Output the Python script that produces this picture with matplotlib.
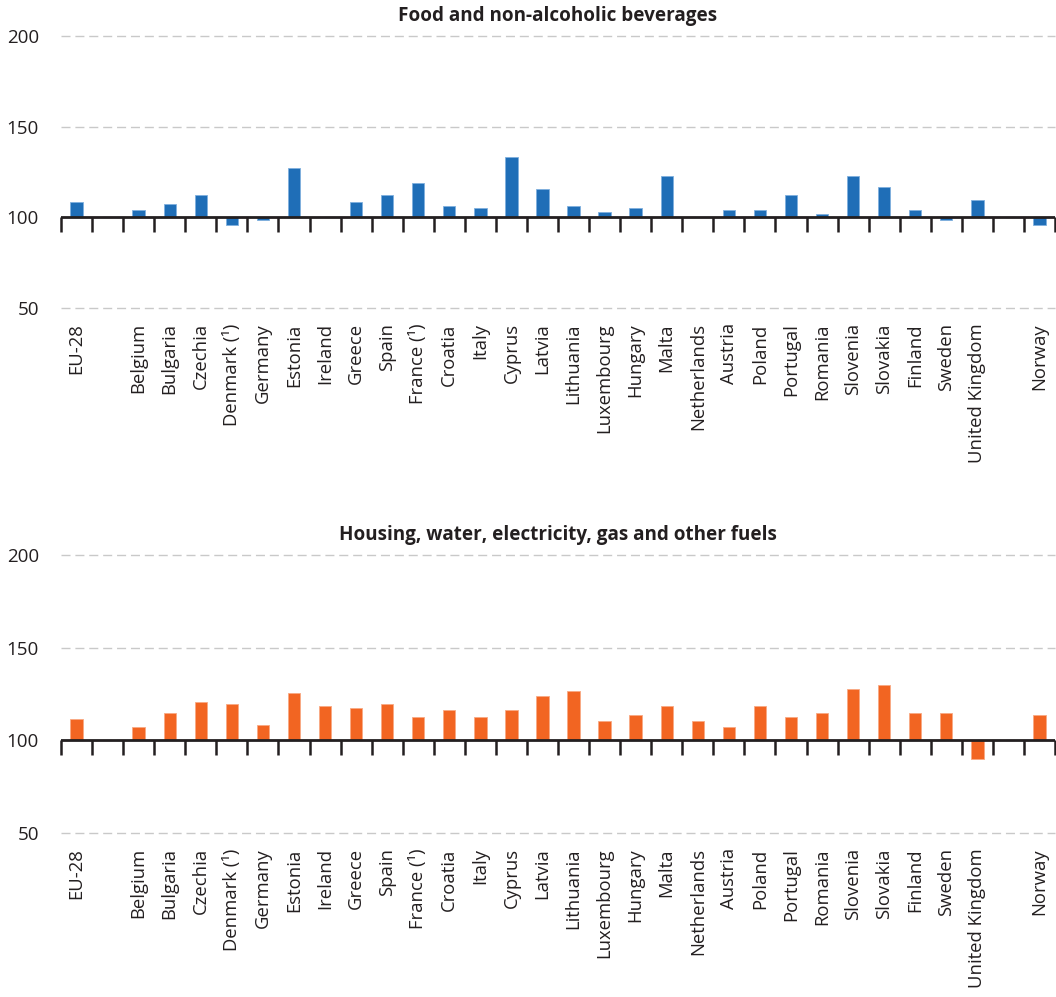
import numpy as np
import matplotlib
matplotlib.use("Agg")
import matplotlib.pyplot as plt
from matplotlib.lines import TICKDOWN

nan = float("nan")

categories = ["EU-28", "", "Belgium", "Bulgaria", "Czechia", "Denmark (¹)", "Germany",
              "Estonia", "Ireland", "Greece", "Spain", "France (¹)", "Croatia", "Italy",
              "Cyprus", "Latvia", "Lithuania", "Luxembourg", "Hungary", "Malta",
              "Netherlands", "Austria", "Poland", "Portugal", "Romania", "Slovenia",
              "Slovakia", "Finland", "Sweden", "United Kingdom", "", "Norway"]

food = [108.7, nan, 103.9, 107.6, 112.2, 95.7, 98.6, 127.2, nan, 108.7, 112.2, 119.1,
        106.3, 105.0, 133.1, 115.6, 106.3, 102.8, 105.0, 122.6, nan, 103.9, 103.9,
        112.2, 101.7, 122.6, 116.7, 103.9, 98.6, 109.8, nan, 95.7]

housing = [111.6, nan, 107.0, 115.0, 120.6, 119.5, 108.1, 125.3, 118.4, 117.3, 119.5,
           112.8, 116.1, 112.8, 116.1, 124.0, 126.4, 110.5, 113.9, 118.4, 110.5, 107.0,
           118.4, 112.8, 115.0, 127.6, 129.8, 115.0, 115.0, 90.1, nan, 113.9]

titles = ["Food and non-alcoholic beverages",
          "Housing, water, electricity, gas and other fuels"]
yticks = [50, 100, 150, 200]
baseline = 100

colors = ["#1F6EB7", "#F26522"]
edge_colors = ["#7FB0DE", "#F9A983"]

plt.rcParams["font.family"] = ["Open Sans", "DejaVu Sans"]

W, H = 1056, 997
fig = plt.figure(figsize=(W / 100, H / 100), dpi=100)

panels = [(36, 308), (555, 833)]
left_px, right_px = 61, 1055

x = np.arange(len(categories))
bounds = np.arange(len(categories) + 1) - 0.5

for (top_px, bot_px), vals, title, col, ecol in zip(panels, [food, housing], titles, colors, edge_colors):
    ax = fig.add_axes([left_px / W, 1 - bot_px / H, (right_px - left_px) / W, (bot_px - top_px) / H])
    v = np.array(vals, dtype=float)
    ax.bar(x, v - baseline, bottom=baseline, width=0.4, color=col,
           edgecolor=ecol, linewidth=0.6, zorder=3)
    ax.set_xlim(-0.5, len(categories) - 0.5)
    ax.set_ylim(50, 200)
    for yt in yticks:
        ax.axhline(yt, color="#C9C9C9", lw=1.0, dashes=(6.5, 3.5), zorder=1, clip_on=False)
    ax.axhline(baseline, color="#231F20", lw=2.0, zorder=4)
    ax.plot(bounds, np.full(len(bounds), baseline), linestyle="none", marker=TICKDOWN,
            markersize=11, markeredgewidth=1.8, color="#231F20", zorder=4, clip_on=False)
    for s in ax.spines.values():
        s.set_visible(False)
    ax.set_yticks(yticks)
    ax.set_yticklabels([str(t) for t in yticks])
    ax.tick_params(axis="y", length=0, pad=16, labelsize=13.5, labelcolor="#231F20")
    ax.set_xticks(x)
    ax.set_xticklabels(categories, rotation=90, va="top", ha="center")
    ax.tick_params(axis="x", length=0, pad=11, labelsize=13.3, labelcolor="#231F20")
    ax.set_title(title, fontsize=13.6, fontweight="bold", color="#231F20", pad=11)

fig.savefig("out.png", dpi=100)
